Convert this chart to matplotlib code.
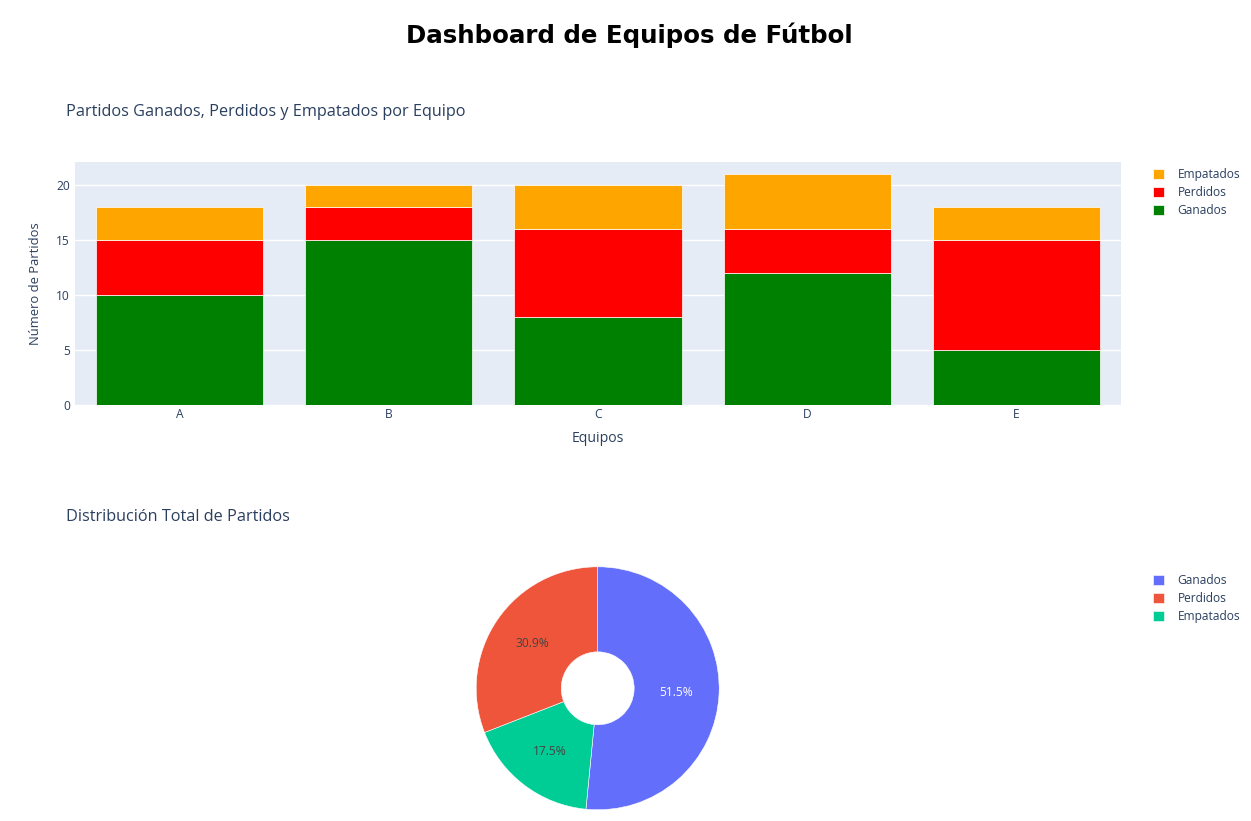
import matplotlib
matplotlib.use('Agg')
import matplotlib.pyplot as plt

plt.rcParams['font.family'] = ['Open Sans', 'DejaVu Sans']

teams = ['A', 'B', 'C', 'D', 'E']
ganados = [10, 15, 8, 12, 5]
perdidos = [5, 3, 8, 4, 10]
empatados = [3, 2, 4, 5, 3]
yticks = [0, 5, 10, 15, 20]

pie_labels = ['Ganados', 'Perdidos', 'Empatados']
pie_totals = [sum(ganados), sum(perdidos), sum(empatados)]
pie_colors = ['#636EFA', '#EF553B', '#00CC96']

W, H = 1251, 821
fig = plt.figure(figsize=(W / 100, H / 100), dpi=100)
TXT = '#2a3f5f'
PX = 0.72  # points per pixel


def rect(x0, y0, x1, y1):
    return [x0 / W, 1 - y1 / H, (x1 - x0) / W, (y1 - y0) / H]


fig.text(629 / W, 1 - 35 / H, 'Dashboard de Equipos de Fútbol', ha='center', va='center',
         fontsize=24.5 * PX, fontweight='bold', color='black', family=['DejaVu Sans'])

# ---- bar chart ----
ax = fig.add_axes(rect(75, 162, 1121, 405))
ax.set_facecolor('#E5ECF6')
x = list(range(len(teams)))
bottom2 = [g + p for g, p in zip(ganados, perdidos)]
bg = ax.bar(x, ganados, 0.8, color='green', edgecolor='white', linewidth=0.5, label='Ganados', zorder=3)
bp = ax.bar(x, perdidos, 0.8, bottom=ganados, color='red', edgecolor='white', linewidth=0.5, label='Perdidos', zorder=3)
be = ax.bar(x, empatados, 0.8, bottom=bottom2, color='orange', edgecolor='white', linewidth=0.5, label='Empatados', zorder=3)
ax.set_xlim(-0.5, len(teams) - 0.5)
ax.set_ylim(0, 22.1)
ax.set_xticks(x)
ax.set_xticklabels(teams)
ax.set_yticks(yticks)
ax.grid(axis='y', color='white', linewidth=1, zorder=0)
ax.set_axisbelow(True)
for s in ax.spines.values():
    s.set_visible(False)
ax.tick_params(length=0, labelsize=12 * PX, labelcolor=TXT)
ax.tick_params(axis='y', pad=5 * PX)
ax.tick_params(axis='x', pad=3 * PX)
ax.set_xlabel('Equipos', fontsize=14 * PX, color=TXT, labelpad=10 * PX)
ax.set_ylabel('Número de Partidos', fontsize=13 * PX, color=TXT, labelpad=14 * PX)

fig.text(66 / W, 1 - 112 / H, 'Partidos Ganados, Perdidos y Empatados por Equipo', ha='left', va='center',
         fontsize=16.3 * PX, color=TXT)

leg1 = fig.legend(handles=[be, bp, bg], labels=['Empatados', 'Perdidos', 'Ganados'], loc='upper left',
                  bbox_to_anchor=(1153 / W, 1 - 168 / H), frameon=False, fontsize=12 * PX,
                  handlelength=0.9, handleheight=0.9, handletextpad=1.15, labelspacing=0.42,
                  borderpad=0, borderaxespad=0)
for t in leg1.get_texts():
    t.set_color(TXT)

# ---- pie chart ----
fig.text(66 / W, 1 - 517 / H, 'Distribución Total de Partidos', ha='left', va='center',
         fontsize=16.3 * PX, color=TXT)

cx, cy, r = 597.7, 688.3, 121.5
pax = fig.add_axes(rect(cx - r, cy - r, cx + r, cy + r))
order = [0, 2, 1]
wedges, texts, autotexts = pax.pie([pie_totals[i] for i in order], colors=[pie_colors[i] for i in order],
                                   startangle=90, counterclock=False, radius=1,
                                   autopct='%1.1f%%', pctdistance=0.65,
                                   wedgeprops=dict(width=0.7, edgecolor='white', linewidth=0.4),
                                   textprops=dict(fontsize=12 * PX))
for i, t in zip(order, autotexts):
    t.set_color('white' if i == 0 else '#444444')
pax.set_xlim(-1, 1)
pax.set_ylim(-1, 1)
pax.set_aspect('equal')
pax.axis('off')

wmap = {i: w for i, w in zip(order, wedges)}
leg2 = fig.legend(handles=[wmap[0], wmap[1], wmap[2]], labels=pie_labels, loc='upper left',
                  bbox_to_anchor=(1153 / W, 1 - 574 / H), frameon=False, fontsize=12 * PX,
                  handlelength=0.9, handleheight=0.9, handletextpad=1.15, labelspacing=0.42,
                  borderpad=0, borderaxespad=0)
for t in leg2.get_texts():
    t.set_color(TXT)

fig.savefig('out.png', dpi=100, facecolor='white')
